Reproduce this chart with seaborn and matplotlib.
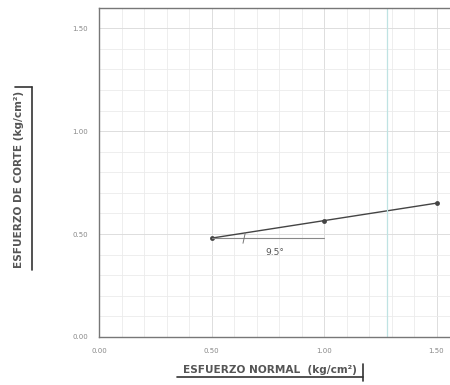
import numpy as np
import matplotlib
matplotlib.use("Agg")
import matplotlib.pyplot as plt
import seaborn as sns
from matplotlib.lines import Line2D

# datos del ensayo de corte directo
esfuerzo_normal = [0.50, 1.00, 1.50]
esfuerzo_corte = [0.48, 0.565, 0.65]
angulo = "9.5°"
ticks = [0.00, 0.50, 1.00, 1.50]
tick_labels = ["0.00", "0.50", "1.00", "1.50"]

sns.set_style("white")
plt.rcParams['font.family'] = ['DejaVu Sans']

fig = plt.figure(figsize=(4.5, 3.85), dpi=100)
ax = fig.add_axes([0.22, 0.125, 0.80, 0.855])

# cuadricula fina
ax.set_xticks(np.arange(0, 1.61, 0.1), minor=True)
ax.set_yticks(np.arange(0, 1.61, 0.1), minor=True)
ax.grid(which="minor", color="#ebebeb", lw=0.6)
ax.grid(which="major", color="#dddddd", lw=0.7)

sns.lineplot(x=esfuerzo_normal, y=esfuerzo_corte, ax=ax, color="#444444",
             lw=1.0, marker="o", markersize=3.5, markeredgewidth=0)

# linea horizontal de referencia para el angulo
ax.plot([esfuerzo_normal[0], esfuerzo_normal[1]],
        [esfuerzo_corte[0], esfuerzo_corte[0]], color="#888888", lw=0.8)
ax.plot([0.65, 0.64], [0.505, 0.455], color="#777777", lw=0.7)
ax.text(0.78, 0.41, angulo, fontsize=6.5, color="#555555", ha="center", va="center")

# linea del escaneo
ax.axvline(1.28, color="#bfe3e3", lw=0.9)

ax.set_xlim(0, 1.6)
ax.set_ylim(0, 1.6)
ax.set_xticks(ticks)
ax.set_yticks(ticks)
ax.set_xticklabels(tick_labels, fontsize=5, color="#888888")
ax.set_yticklabels(tick_labels, fontsize=5, color="#888888")
ax.tick_params(which="both", length=0, pad=8)
for s in ax.spines.values():
    s.set_color("#777777")
    s.set_linewidth(1.0)

# etiquetas subrayadas
fig.text(0.600, 0.039, "ESFUERZO NORMAL  (kg/cm²)", fontsize=7.6, fontweight="bold",
         color="#555555", ha="center", va="center")
fig.lines.append(Line2D([0.393, 0.806], [0.021, 0.021], transform=fig.transFigure,
                        color="#333333", lw=1.2))
fig.lines.append(Line2D([0.806, 0.806], [0.011, 0.055], transform=fig.transFigure,
                        color="#333333", lw=1.2))
fig.text(0.042, 0.535, "ESFUERZO DE CORTE (kg/cm²)", fontsize=7.6, fontweight="bold",
         color="#555555", ha="center", va="center", rotation=90)
fig.lines.append(Line2D([0.071, 0.071], [0.298, 0.774], transform=fig.transFigure,
                        color="#333333", lw=1.2))
fig.lines.append(Line2D([0.033, 0.071], [0.774, 0.774], transform=fig.transFigure,
                        color="#333333", lw=1.2))

fig.savefig("out.png", dpi=100)
